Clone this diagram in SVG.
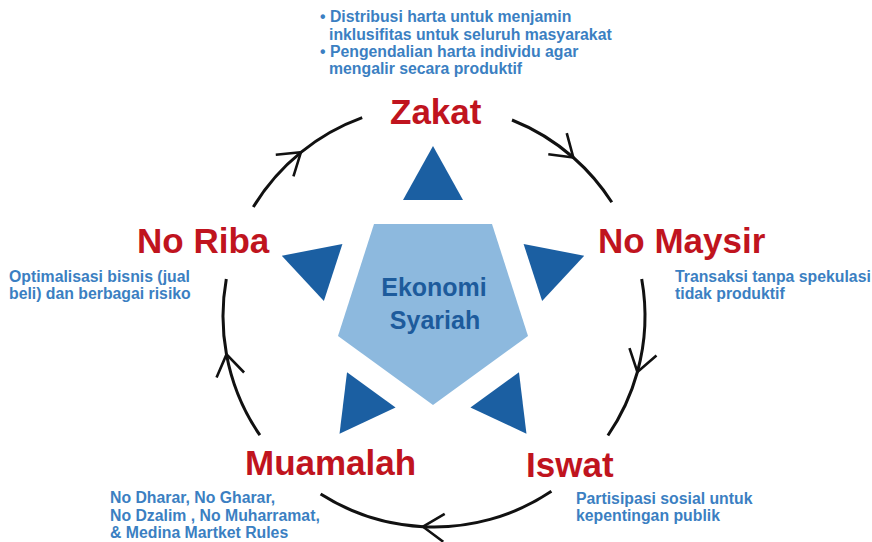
<svg xmlns="http://www.w3.org/2000/svg" width="872" height="542" viewBox="0 0 872 542">
<style>
.lbl{font-family:"Liberation Sans",Arial,sans-serif;font-weight:bold;font-size:35px;fill:#C0141E}
.desc{font-family:"Liberation Sans",Arial,sans-serif;font-weight:bold;font-size:15.8px;fill:#3B7FC2}
.ctr{font-family:"Liberation Sans",Arial,sans-serif;font-weight:bold;font-size:25px;fill:#1D5B9C}
.tri{fill:#1B5FA2}
.arc{fill:none;stroke:#111;stroke-width:3;marker-mid:url(#chev)}
</style>
<defs>
<marker id="chev" markerUnits="userSpaceOnUse" viewBox="-24 -16 28 32" refX="0" refY="0" markerWidth="28" markerHeight="32" orient="auto" overflow="visible">
<path d="M -21 -14 L 0 0 L -21 14" fill="none" stroke="#111" stroke-width="2.6"/>
</marker>
<polygon id="triangle" points="433,146 403,200 463,200"/>
</defs>
<rect width="872" height="542" fill="#fff"/>
<g id="connectors">
<path class="arc" d="M 512.0 120.0 A 211 211 0 0 1 573.3 157.5 A 211 211 0 0 1 611.8 202.3"/>
<path class="arc" d="M 641.7 279.0 A 211 211 0 0 1 637.4 372.0 A 211 211 0 0 1 607.9 435.5"/>
<path class="arc" d="M 551.4 491.3 A 211 211 0 0 1 423.0 526.7 A 211 211 0 0 1 320.6 494.0"/>
<path class="arc" d="M 259.9 435.2 A 211 211 0 0 1 226.5 354.4 A 211 211 0 0 1 226.3 279.0"/>
<path class="arc" d="M 253.3 207.0 A 211 211 0 0 1 300.9 152.3 A 211 211 0 0 1 362.2 117.6"/>
</g>
<g id="center">
<polygon points="374,224 492,224 528,336 433,405 338,336" fill="#8DB9DE"/>
<text class="ctr" x="434" y="296" text-anchor="middle">Ekonomi</text>
<text class="ctr" x="435" y="329" text-anchor="middle">Syariah</text>
</g>
<g id="zakat">
<use href="#triangle" class="tri"/>
<text class="lbl" x="390" y="124">Zakat</text>
<text class="desc" x="320" y="22">• Distribusi harta untuk menjamin</text>
<text class="desc" x="329" y="39.5">inklusifitas untuk seluruh masyarakat</text>
<text class="desc" x="320" y="57">• Pengendalian harta individu agar</text>
<text class="desc" x="329" y="74">mengalir secara produktif</text>
</g>
<g id="no-maysir">
<use href="#triangle" class="tri" transform="rotate(72 433 305)"/>
<text class="lbl" x="598" y="253">No Maysir</text>
<text class="desc" x="675" y="282">Transaksi tanpa spekulasi</text>
<text class="desc" x="675" y="299">tidak produktif</text>
</g>
<g id="iswat">
<use href="#triangle" class="tri" transform="rotate(144 433 305)"/>
<text class="lbl" x="526" y="477">Iswat</text>
<text class="desc" x="576" y="504">Partisipasi sosial untuk</text>
<text class="desc" x="576" y="521">kepentingan publik</text>
</g>
<g id="muamalah">
<use href="#triangle" class="tri" transform="rotate(216 433 305)"/>
<text class="lbl" x="245" y="475">Muamalah</text>
<text class="desc" x="110" y="503">No Dharar, No Gharar,</text>
<text class="desc" x="110" y="520.5">No Dzalim , No Muharramat,</text>
<text class="desc" x="110" y="538">&amp; Medina Martket Rules</text>
</g>
<g id="no-riba">
<use href="#triangle" class="tri" transform="rotate(288 433 305)"/>
<text class="lbl" x="137" y="253">No Riba</text>
<text class="desc" x="9" y="282">Optimalisasi bisnis (jual</text>
<text class="desc" x="9" y="299">beli) dan berbagai risiko</text>
</g>
</svg>
